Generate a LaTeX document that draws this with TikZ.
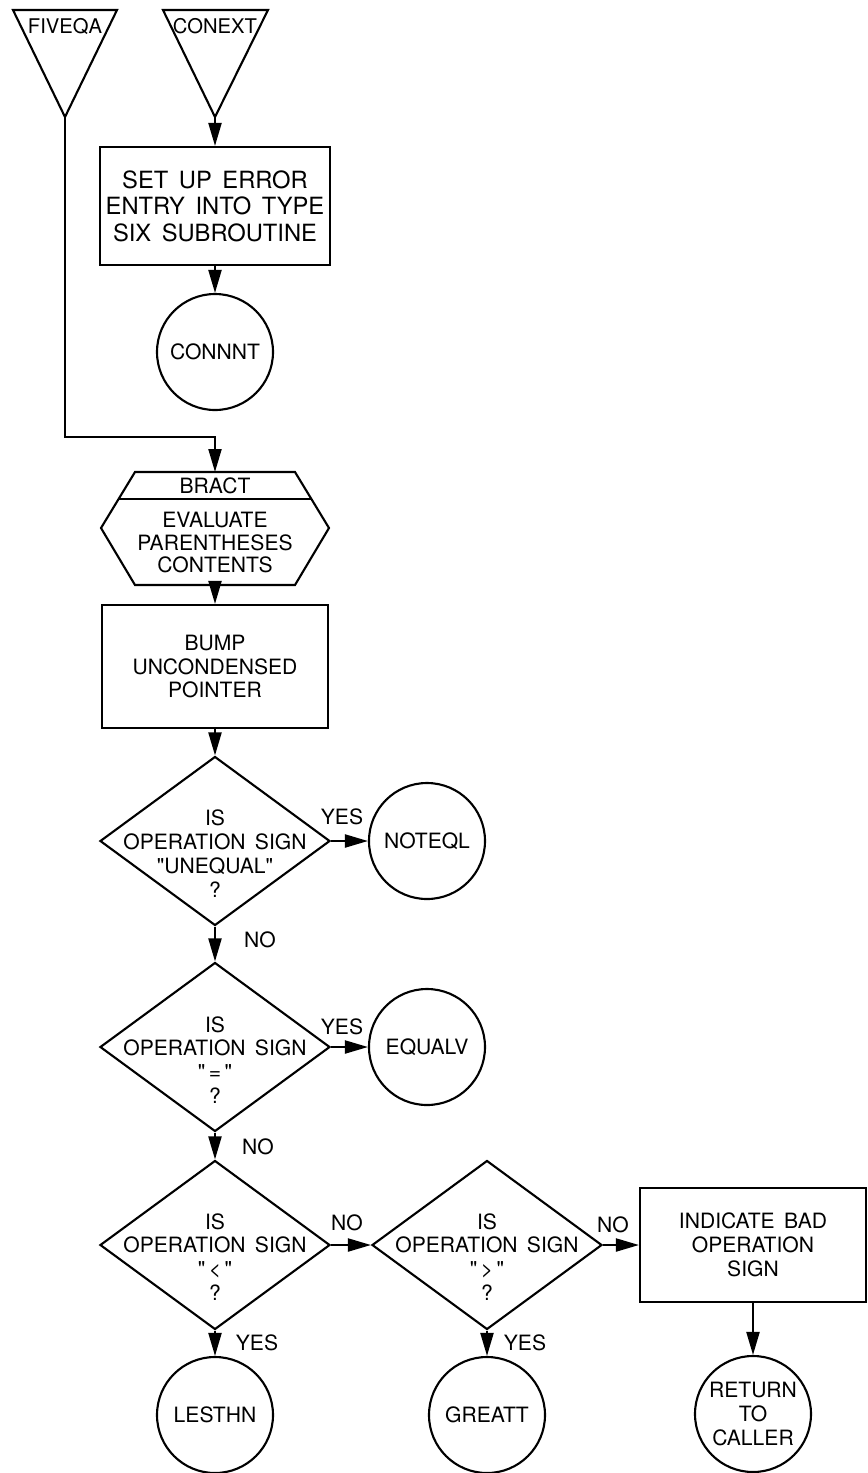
\documentclass[tikz,border=0pt]{standalone}
\usepackage{fontspec}
\setmainfont{TeX Gyre Heros}[WordSpace=1.6,Ligatures=TeXOff]
\usetikzlibrary{arrows.meta,shapes.geometric}

\begin{document}
\begin{tikzpicture}[x=1cm,y=1cm,line width=1.2pt,
  every node/.style={font=\fontsize{12}{13.6}\selectfont},
  flowbox/.style={draw,rectangle,inner sep=0pt,align=center},
  decision/.style={draw,diamond,minimum width=4.6cm,minimum height=3.38cm,inner sep=0pt},
  dtext/.style={align=center,inner sep=0pt},
  conn/.style={draw,circle,minimum size=2.32cm,inner sep=0pt,align=center},
  flow/.style={-{Triangle[length=4.6mm,width=2.6mm]}}]
\useasboundingbox (0,0) rectangle (17.36,-29.46);
\draw (0.26,-0.2) -- (2.34,-0.2) -- (1.3,-2.34) -- cycle;
\node[font=\fontsize{11.5}{13}\selectfont] (fiveqa) at (1.3,-0.52) {FIVEQA};
\coordinate (fiveqa tip) at (1.3,-2.34);
\draw (3.26,-0.2) -- (5.36,-0.2) -- (4.3,-2.34) -- cycle;
\node[font=\fontsize{11.5}{13}\selectfont] (conext) at (4.3,-0.52) {CONEXT};
\coordinate (conext tip) at (4.3,-2.34);
\node[flowbox,minimum width=4.6cm,minimum height=2.36cm,font=\fontsize{13.5}{15}\selectfont] (setup) at (4.3,-4.12) {SET UP ERROR\\ENTRY INTO TYPE\\SIX SUBROUTINE};
\draw[flow] (conext tip) -- (setup);
\node[conn] (connnt) at (4.3,-7.04) {CONNNT};
\draw[flow] (setup) -- (connnt);
\draw (2.7,-9.44) -- (5.9,-9.44) -- (6.58,-10.56) -- (5.9,-11.7) -- (2.7,-11.7) -- (2.02,-10.56) -- cycle;
\draw (2.37,-9.98) -- (6.23,-9.98);
\coordinate (bract in) at (4.3,-9.44);
\coordinate (bract out) at (4.3,-11.7);
\node (bract) at (4.3,-9.71) {BRACT};
\node[dtext,font=\fontsize{12}{13}\selectfont] (evaluate) at (4.3,-10.85) {EVALUATE\\PARENTHESES\\CONTENTS};
\draw[flow] (fiveqa tip) -- (1.3,-8.74) -| (bract in);
\node[flowbox,minimum width=4.52cm,minimum height=2.46cm] (bump) at (4.3,-13.33) {BUMP\\UNCONDENSED\\POINTER};
\draw[flow] (bract out) -- (bump);
\node[decision] (d1) at (4.3,-16.82) {};
\node[dtext] (d1t) at (4.3,-17.07) {IS\\OPERATION SIGN\\"UNEQUAL"\\?};
\node[conn] (noteql) at (8.54,-16.82) {NOTEQL};
\node (d1yes) at (6.84,-16.34) {YES};
\node (d1no) at (5.2,-18.8) {NO};
\draw[flow] (bump) -- (d1);
\draw[flow] (d1) -- (noteql);
\node[decision] (d2) at (4.3,-20.94) {};
\node[dtext] (d2t) at (4.3,-21.2) {IS\\OPERATION SIGN\\"\,=\,"\\?};
\node[conn] (equalv) at (8.54,-20.94) {EQUALV};
\node (d2yes) at (6.84,-20.54) {YES};
\node (d2no) at (5.16,-22.94) {NO};
\draw[flow] (d1) -- (d2);
\draw[flow] (d2) -- (equalv);
\node[decision] (d3) at (4.3,-24.9) {};
\node[dtext] (d3t) at (4.3,-25.14) {IS\\OPERATION SIGN\\"\,<\,"\\?};
\node[decision] (d4) at (9.74,-24.9) {};
\node[dtext] (d4t) at (9.74,-25.14) {IS\\OPERATION SIGN\\"\,>\,"\\?};
\node[flowbox,minimum width=4.52cm,minimum height=2.28cm] (indicate) at (15.06,-24.9) {INDICATE BAD\\OPERATION\\SIGN};
\node[conn] (lesthn) at (4.3,-28.3) {LESTHN};
\node[conn] (greatt) at (9.74,-28.3) {GREATT};
\node[conn] (return) at (15.06,-28.28) {RETURN\\TO\\CALLER};
\node (d3no) at (6.94,-24.46) {NO};
\node (d3yes) at (5.14,-26.86) {YES};
\node (d4no) at (12.26,-24.5) {NO};
\node (d4yes) at (10.5,-26.86) {YES};
\draw[flow] (d2) -- (d3);
\draw[flow] (d3) -- (d4);
\draw[flow] (d4) -- (indicate);
\draw[flow] (d3) -- (lesthn);
\draw[flow] (d4) -- (greatt);
\draw[flow] (indicate) -- (return);
\end{tikzpicture}
\end{document}
